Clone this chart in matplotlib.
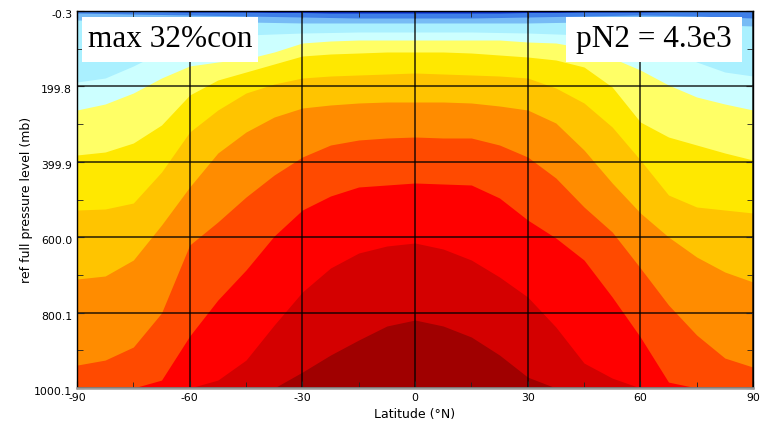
import numpy as np
import matplotlib.pyplot as plt
import matplotlib.transforms as mtransforms
from matplotlib.patches import Rectangle

plt.rcParams['axes.unicode_minus'] = False

# pressure (mb) of each contour line at each latitude
lats = [-90, -82.5, -75, -67.5, -60, -52.5, -45, -37.5, -30, -22.5, -15, -7.5, 0,
        7.5, 15, 22.5, 30, 37.5, 45, 52.5, 60, 67.5, 75, 82.5, 90]

line1 = [-0.3, -0.3, -0.3, 1.0, 2.4, 2.4, 2.4, 3.7, 3.7, 5.0, 5.0, 5.0, 5.0,
         5.0, 5.0, 5.0, 3.7, 3.7, 2.4, 2.4, 2.4, 1.0, -0.3, -0.3, -0.3]
line2 = [5.0, 6.3, 7.7, 9.0, 10.3, 11.6, 13.0, 14.3, 15.6, 17.0, 18.3, 18.3, 18.3,
         18.3, 18.3, 17.0, 15.6, 14.3, 13.0, 11.6, 10.3, 11.6, 13.0, 15.6, 18.3]
line3 = [23.6, 25.0, 26.2, 27.6, 28.9, 28.9, 28.9, 30.2, 31.5, 31.5, 31.5, 31.5, 31.5,
         31.5, 31.5, 31.5, 31.5, 30.2, 28.9, 28.9, 28.9, 31.5, 34.2, 36.9, 39.5]
line4 = [188.1, 177.5, 145.6, 108.5, 76.7, 68.7, 63.4, 60.7, 58.1, 56.8, 55.4, 55.4, 55.4,
         55.4, 55.4, 56.8, 58.1, 60.7, 63.4, 68.7, 76.7, 103.2, 135.0, 161.6, 172.2]
line5 = [262.4, 246.5, 217.3, 177.5, 145.6, 135.0, 127.1, 108.5, 84.6, 79.3, 76.7, 76.7, 76.7,
         76.7, 76.7, 76.7, 82.0, 84.6, 97.9, 124.4, 156.3, 196.1, 227.9, 246.5, 262.4]
line6 = [381.8, 373.9, 350.0, 302.2, 222.6, 182.8, 161.6, 140.3, 119.1, 113.8, 111.2, 108.5, 108.5,
         108.5, 111.2, 116.5, 121.8, 129.7, 148.3, 201.4, 294.3, 334.1, 355.3, 376.5, 395.1]
line7 = [527.8, 525.1, 509.2, 427.0, 320.8, 262.4, 217.3, 193.4, 177.5, 172.2, 169.5, 166.9, 164.2,
         166.9, 169.5, 172.2, 177.5, 204.0, 243.8, 307.5, 395.1, 488.0, 519.8, 527.8, 535.7]
line8 = [710.9, 702.9, 660.5, 567.6, 466.7, 376.5, 320.8, 281.0, 257.1, 249.1, 243.8, 241.2, 241.2,
         241.2, 243.8, 251.8, 262.4, 296.9, 368.6, 456.1, 535.7, 599.4, 652.5, 692.3, 718.8]
line9 = [939.3, 926.0, 891.4, 801.1, 620.6, 559.6, 493.3, 434.9, 387.1, 355.3, 342.0, 336.7, 334.1,
         336.7, 336.7, 355.3, 387.1, 442.8, 519.8, 586.1, 681.7, 779.8, 859.5, 920.6, 944.6]
line10 = [1000.1, 1000.1, 1000.1, 979.1, 862.2, 766.6, 687.0, 596.8, 527.8, 490.6, 466.7, 461.4, 456.1,
          458.8, 461.4, 495.9, 554.3, 602.1, 660.5, 758.6, 864.8, 984.4, 1000.1, 1000.1, 1000.1]
line11 = [1000.1, 1000.1, 1000.1, 1000.1, 1000.1, 979.1, 926.0, 833.0, 745.4, 681.7, 641.9, 623.3, 615.3,
          631.3, 660.5, 705.6, 758.6, 838.3, 933.9, 973.8, 1000.1, 1000.1, 1000.1, 1000.1, 1000.1]
line12 = [1000.1, 1000.1, 1000.1, 1000.1, 1000.1, 1000.1, 1000.1, 1000.1, 957.9, 912.6, 872.8, 835.6, 819.7,
          835.6, 864.8, 912.6, 971.2, 1000.1, 1000.1, 1000.1, 1000.1, 1000.1, 1000.1, 1000.1, 1000.1]

band_colors = ['#0a2ccc', '#3f7fe8', '#77bbf5', '#aaf0ff', '#ccffff',
               '#ffff66', '#ffe800', '#ffc400', '#ff8c00', '#ff4a00',
               '#ff0000', '#d40000', '#a00000']

p_top, p_bot = -0.3, 1000.1
ytick_vals = [-0.3, 199.8, 399.9, 600.0, 800.1, 1000.1]
ytick_labels = ['-0.3', '199.8', '399.9', '600.0', '800.1', '1000.1']
xtick_vals = [-90, -60, -30, 0, 30, 60, 90]

fig = plt.figure(figsize=(7.61, 4.30), dpi=100)
ax = fig.add_axes([77 / 761, 42 / 430, 676 / 761, 377 / 430])

# each band filled from its upper contour line down to the bottom
tops = [[p_top] * len(lats), line1, line2, line3, line4, line5, line6,
        line7, line8, line9, line10, line11, line12]
for top, color in zip(tops, band_colors):
    ax.fill_between(lats, top, p_bot, color=color, lw=0)

ax.set_xlim(-90, 90)
ax.set_ylim(p_bot, p_top)
ax.set_xticks(xtick_vals)
ax.set_xticks(np.arange(-75, 90, 30), minor=True)
ax.set_yticks(ytick_vals)
ax.set_yticklabels(ytick_labels)
ax.set_yticks([100, 300, 500, 700, 900], minor=True)
ax.tick_params(which='both', direction='in', top=True, right=True,
               labelsize=7.8, color='#222222')
ax.tick_params(which='major', length=5)
ax.tick_params(which='minor', length=4)
ax.grid(True, which='major', color='black', lw=1.1, alpha=0.85)

# y tick labels sit a little below their ticks
shift = mtransforms.ScaledTranslation(0, -3 / 100, fig.dpi_scale_trans)
for lab in ax.get_yticklabels():
    lab.set_transform(lab.get_transform() + shift)

for s in ax.spines.values():
    s.set_linewidth(1.0)
ax.spines['bottom'].set_color('#9a9a9a')
ax.spines['bottom'].set_linewidth(1.8)

ax.set_xlabel('Latitude (°N)', fontsize=9, labelpad=4)
ax.set_ylabel('ref full pressure level (mb)', fontsize=9, labelpad=1)

# labelled white boxes
serif = ['Liberation Serif', 'DejaVu Serif']
for x0, x1, label in [(82, 258, 'max 32%con'), (566, 742, 'pN2 = 4.3e3')]:
    bx = (x0 - 77) / 676
    bw = (x1 - x0) / 676
    by = 1 - (62 - 11) / 377
    bh = 45 / 377
    ax.add_patch(Rectangle((bx, by), bw, bh, transform=ax.transAxes,
                           facecolor='white', edgecolor='none', zorder=5))
    ax.text(bx + bw / 2, by + bh / 2, label, transform=ax.transAxes,
            ha='center', va='center', fontsize=22.5, family=serif, zorder=6)

fig.savefig('out.png', dpi=100)
